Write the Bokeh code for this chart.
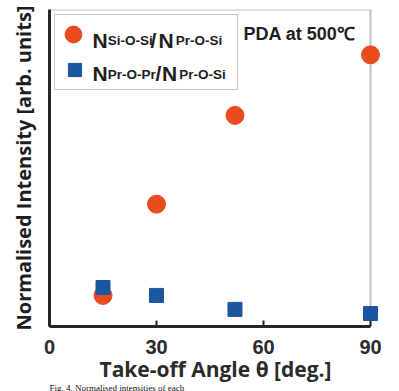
from bokeh.plotting import figure
from bokeh.models import (Range1d, FixedTicker, Legend, LegendItem, BoxAnnotation,
                          Label, Title)
from bokeh.embed import file_html
from bokeh.resources import INLINE

# ---- data ----
angles = [15, 30, 52, 90]
si_o_si = [0.098, 0.386, 0.666, 0.857]
pr_o_pr = [0.123, 0.098, 0.054, 0.041]
x_ticks = [0, 30, 60, 90]
series_subs = [("Si-O-Si", "Pr-O-Si"), ("Pr-O-Pr", "Pr-O-Si")]
annotation_text = "PDA at 500\u2103"
caption_text = "Fig. 4. Normalised intensities of each"

ORANGE = "#E84B1E"
BLUE = "#1D56A0"
DARK = "#262626"

p = figure(width=399, height=391, output_backend="svg", toolbar_location=None,
           x_range=Range1d(0, 93.08), y_range=Range1d(0, 1),
           min_border_left=49, min_border_right=18, min_border_top=9, min_border_bottom=65)
p.outline_line_color = None
p.xgrid.visible = False
p.ygrid.visible = False
p.background_fill_color = "white"
p.border_fill_color = "white"

xa = p.xaxis[0]
xa.ticker = FixedTicker(ticks=x_ticks)
xa.bounds = (0, 90)
xa.axis_line_width = 3
xa.axis_line_color = DARK
xa.major_tick_in = 6
xa.major_tick_out = 0
xa.major_tick_line_width = 2
xa.major_tick_line_color = DARK
xa.minor_tick_line_color = None
xa.major_label_text_font = "Liberation Sans"
xa.major_label_text_font_style = "bold"
xa.major_label_text_font_size = "20px"
xa.major_label_text_color = "#2b2b2b"
xa.major_label_standoff = 13
xa.axis_label = "Take-off Angle \u03b8 [deg.]"
xa.axis_label_text_font = "Open Sans"
xa.axis_label_text_font_style = "bold"
xa.axis_label_text_font_size = "21px"
xa.axis_label_text_color = "#2b2b2b"
xa.axis_label_standoff = -2

ya = p.yaxis[0]
ya.ticker = FixedTicker(ticks=[])
ya.axis_line_width = 3
ya.axis_line_color = DARK
ya.major_tick_in = 0
ya.major_tick_out = 0
ya.minor_tick_line_color = None
ya.major_label_text_font_size = "0px"
ya.axis_label = "Normalised Intensity [arb. units]"
ya.axis_label_text_font = "Open Sans"
ya.axis_label_text_font_style = "bold"
ya.axis_label_text_font_size = "20px"
ya.axis_label_text_color = "#1e1e1e"
ya.axis_label_standoff = 13

# caption under the chart (compact panel)
cap = Title(text=caption_text, align="left", text_font="Liberation Serif",
            text_font_style="normal", text_font_size="9px", text_color="#111111",
            standoff=-14, offset=0, vertical_align="bottom")
p.add_layout(cap, "below")

# frame border (top/right thinner)
p.add_layout(BoxAnnotation(left=0, right=90, bottom=0, top=1, fill_alpha=0,
                           line_color="#2e2e2e", line_width=2, level="underlay"))

r_circ = p.scatter(angles, si_o_si, marker="circle", size=18, fill_color=ORANGE, line_color=ORANGE)
r_sq = p.scatter(angles, pr_o_pr, marker="square", size=14, fill_color=BLUE, line_color=BLUE)
r_box = p.scatter([], [], marker="square", size=1, fill_alpha=0, line_alpha=0)

common = dict(location="top_left", padding=0, label_width=0, label_height=0, label_standoff=0,
              background_fill_alpha=0, label_text_font_size="1px")
# legend frame
leg0 = Legend(items=[LegendItem(label=" ", renderers=[r_box])], margin=5,
              glyph_width=182, glyph_height=74, border_line_color="#8a8a8a",
              border_line_width=1.3, **common)
# legend markers
leg1 = Legend(items=[LegendItem(label=" ", renderers=[r_circ])], margin=3,
              glyph_width=42, glyph_height=44, border_line_color=None, **common)
leg2 = Legend(items=[LegendItem(label=" ", renderers=[r_sq])], margin=9,
              glyph_width=33, glyph_height=103, border_line_color=None, **common)
p.add_layout(leg0)
p.add_layout(leg1)
p.add_layout(leg2)

def txt(x, y, s, size, font="Liberation Sans", style="bold", color="#1e1e1e"):
    p.add_layout(Label(x=x, y=y, x_units="screen", y_units="screen", text=s,
                       text_font=font, text_font_style=style, text_font_size=size,
                       text_color=color, text_baseline="alphabetic", text_align="left"))

rows = [
    (286.5, [43, 58.3, 100.9, 109.0, 126.3]),
    (253.0, [43, 58.3, 105.9, 112.5, 129.8]),
]
for (sub1, sub2), (yb, xs) in zip(series_subs, rows):
    txt(xs[0], yb, "N", "21px")
    txt(xs[1], yb - 0.5, sub1, "13.5px")
    txt(xs[2], yb, "/", "21px")
    txt(xs[3], yb, "N", "21px")
    txt(xs[4], yb - 0.5, sub2, "13.5px")

txt(194, 293, annotation_text, "18px")

html = file_html(p, INLINE)
open("out.html", "w").write(html)
